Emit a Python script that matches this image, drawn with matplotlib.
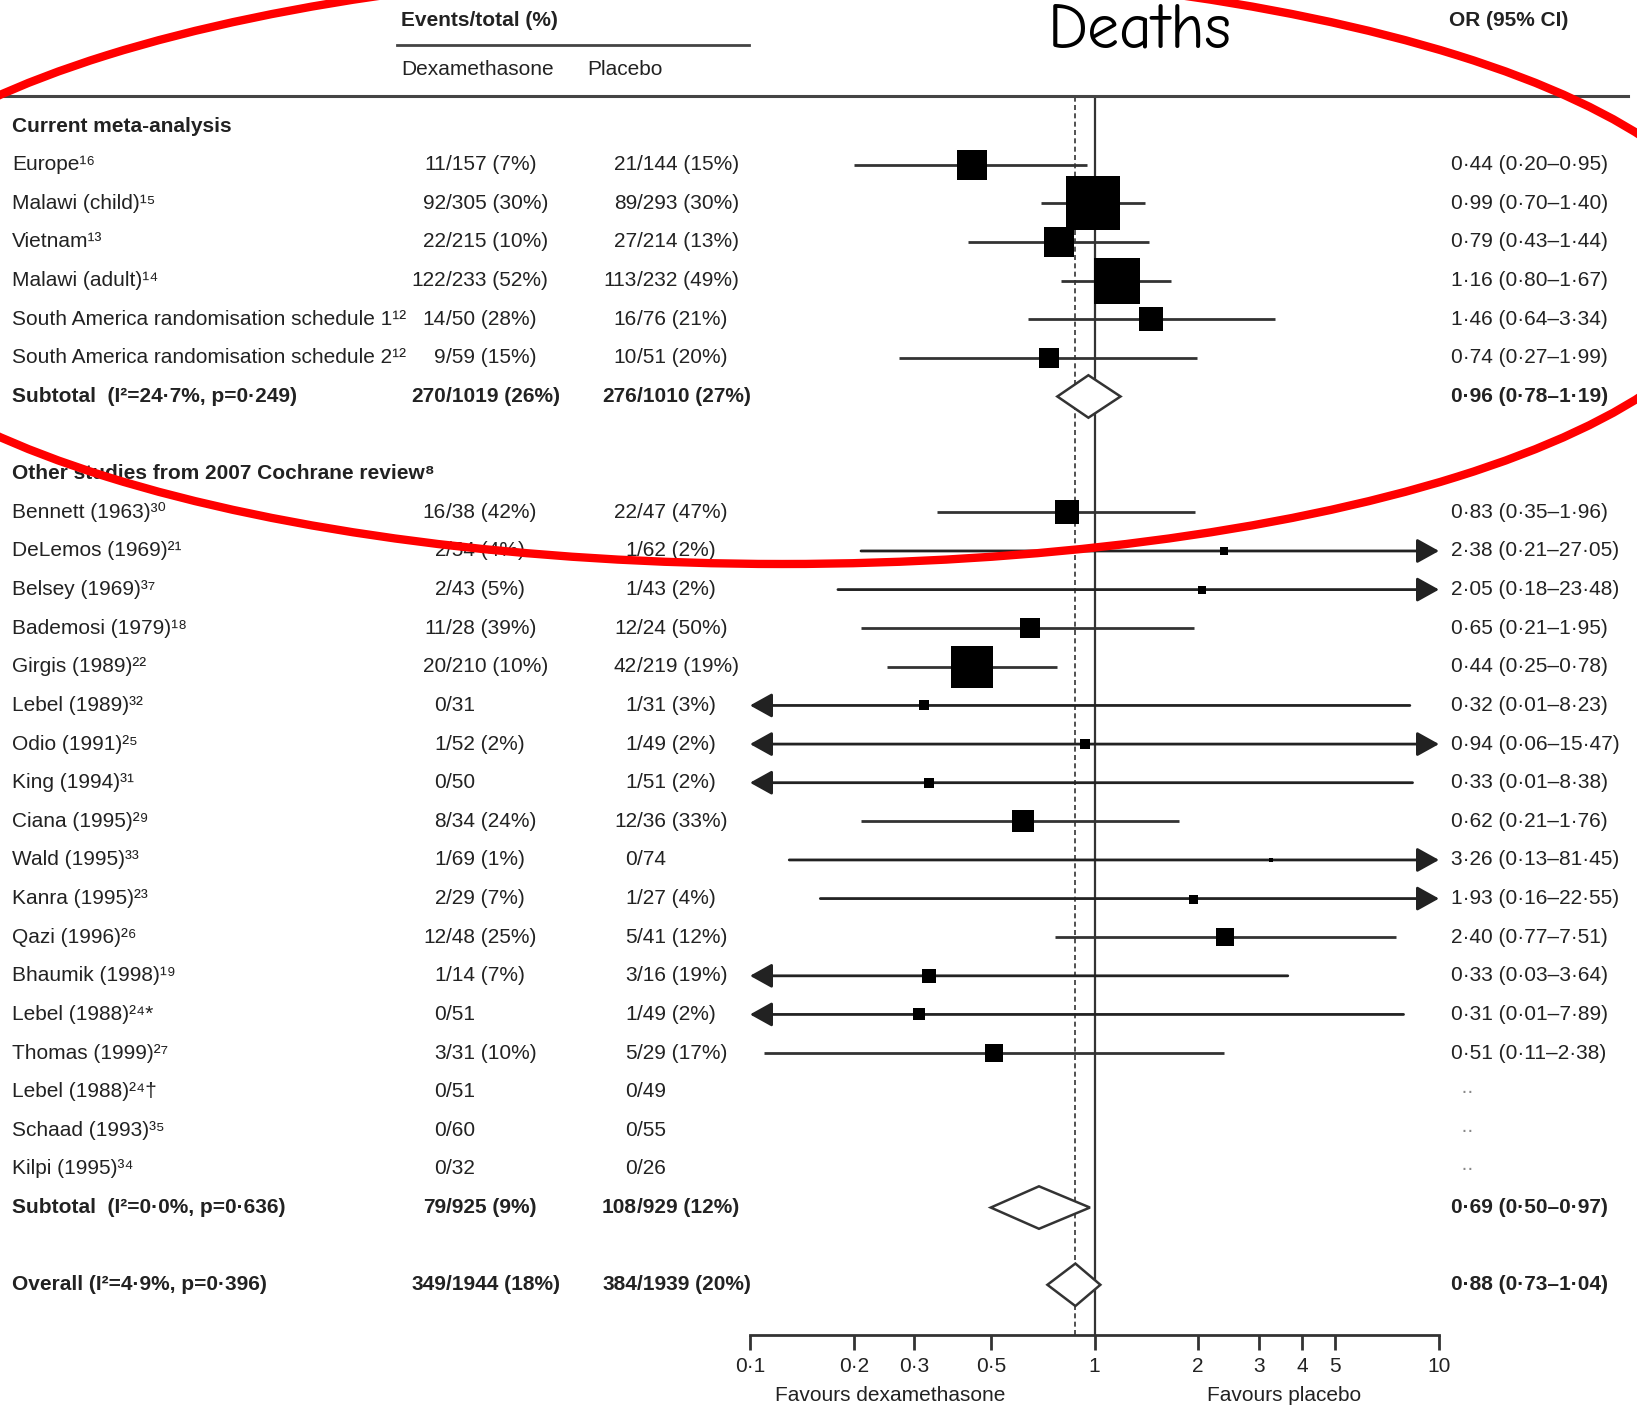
import numpy as np
import matplotlib
matplotlib.use('Agg')
import matplotlib.pyplot as plt
from matplotlib import transforms
from matplotlib.patches import Ellipse, Polygon

plt.rcParams['font.family'] = ['Liberation Sans', 'DejaVu Sans']

# ---- data (one entry per table row, top to bottom) ----
row_labels = [
    "Current meta-analysis",
    "Europe¹⁶",
    "Malawi (child)¹⁵",
    "Vietnam¹³",
    "Malawi (adult)¹⁴",
    "South America randomisation schedule 1¹²",
    "South America randomisation schedule 2¹²",
    "Subtotal  (I²=24·7%, p=0·249)",
    "",
    "Other studies from 2007 Cochrane review⁸",
    "Bennett (1963)³⁰",
    "DeLemos (1969)²¹",
    "Belsey (1969)³⁷",
    "Bademosi (1979)¹⁸",
    "Girgis (1989)²²",
    "Lebel (1989)³²",
    "Odio (1991)²⁵",
    "King (1994)³¹",
    "Ciana (1995)²⁹",
    "Wald (1995)³³",
    "Kanra (1995)²³",
    "Qazi (1996)²⁶",
    "Bhaumik (1998)¹⁹",
    "Lebel (1988)²⁴*",
    "Thomas (1999)²⁷",
    "Lebel (1988)²⁴†",
    "Schaad (1993)³⁵",
    "Kilpi (1995)³⁴",
    "Subtotal  (I²=0·0%, p=0·636)",
    "",
    "Overall (I²=4·9%, p=0·396)",
]
row_kind = ['head', 'study', 'study', 'study', 'study', 'study', 'study', 'sub', 'blank',
            'head', 'study', 'study', 'study', 'study', 'study', 'study', 'study', 'study',
            'study', 'study', 'study', 'study', 'study', 'study', 'study', 'study', 'study',
            'study', 'sub', 'blank', 'sub']
dexa = ["", "11/157 (7%)", "92/305 (30%)", "22/215 (10%)", "122/233 (52%)", "14/50 (28%)",
        "9/59 (15%)", "270/1019 (26%)", "", "", "16/38 (42%)", "2/54 (4%)", "2/43 (5%)",
        "11/28 (39%)", "20/210 (10%)", "0/31", "1/52 (2%)", "0/50", "8/34 (24%)", "1/69 (1%)",
        "2/29 (7%)", "12/48 (25%)", "1/14 (7%)", "0/51", "3/31 (10%)", "0/51", "0/60", "0/32",
        "79/925 (9%)", "", "349/1944 (18%)"]
placebo = ["", "21/144 (15%)", "89/293 (30%)", "27/214 (13%)", "113/232 (49%)", "16/76 (21%)",
           "10/51 (20%)", "276/1010 (27%)", "", "", "22/47 (47%)", "1/62 (2%)", "1/43 (2%)",
           "12/24 (50%)", "42/219 (19%)", "1/31 (3%)", "1/49 (2%)", "1/51 (2%)", "12/36 (33%)",
           "0/74", "1/27 (4%)", "5/41 (12%)", "3/16 (19%)", "1/49 (2%)", "5/29 (17%)", "0/49",
           "0/55", "0/26", "108/929 (12%)", "", "384/1939 (20%)"]
nan = np.nan
or_est = [nan, 0.44, 0.99, 0.79, 1.16, 1.46, 0.74, 0.96, nan, nan, 0.83, 2.38, 2.05, 0.65, 0.44,
          0.32, 0.94, 0.33, 0.62, 3.26, 1.93, 2.40, 0.33, 0.31, 0.51, nan, nan, nan, 0.69, nan, 0.88]
or_lo = [nan, 0.20, 0.70, 0.43, 0.80, 0.64, 0.27, 0.78, nan, nan, 0.35, 0.21, 0.18, 0.21, 0.25,
         0.01, 0.06, 0.01, 0.21, 0.13, 0.16, 0.77, 0.03, 0.01, 0.11, nan, nan, nan, 0.50, nan, 0.73]
or_hi = [nan, 0.95, 1.40, 1.44, 1.67, 3.34, 1.99, 1.19, nan, nan, 1.96, 27.05, 23.48, 1.95, 0.78,
         8.23, 15.47, 8.38, 1.76, 81.45, 22.55, 7.51, 3.64, 7.89, 2.38, nan, nan, nan, 0.97, nan, 1.04]
# relative study weights (box area)
weights = [0, 9.6, 28.1, 9.6, 21.2, 5.3, 4.4, 0, 0, 0, 5.3, 0.64, 0.64, 4.4, 17.6, 1.0, 1.0, 1.0,
           4.8, 0.16, 0.81, 2.9, 1.7, 1.4, 2.9, 0, 0, 0, 0, 0, 0]
overall_or = 0.88
ticks = [0.1, 0.2, 0.3, 0.5, 1, 2, 3, 4, 5, 10]

# ---- layout ----
W, H = 1637, 1409
fig = plt.figure(figsize=(W / 100, H / 100), dpi=100)
fig.patch.set_facecolor('white')
top_row, bot_row = -0.78, 31.3
ax = fig.add_axes([750 / W, 1 - 1335 / H, 689 / W, (1335 - 96) / H])
ax.set_xscale('log')
ax.set_xlim(0.1, 10)
ax.set_ylim(bot_row, top_row)
for s in ['top', 'left', 'right']:
    ax.spines[s].set_visible(False)
ax.spines['bottom'].set_linewidth(2)
ax.spines['bottom'].set_color('#333333')
ax.yaxis.set_visible(False)
ax.set_xticks(ticks)
ax.set_xticklabels([f"{t:g}".replace('.', '·') for t in ticks], fontsize=15, color='#222222')
ax.xaxis.set_minor_locator(matplotlib.ticker.NullLocator())
ax.tick_params(axis='x', length=11, width=2, color='#333333', pad=5)
ax.patch.set_alpha(0)

ink = '#222222'
fs = 15
blend = transforms.blended_transform_factory(fig.transFigure, ax.transData)
x_label = 12 / W
x_dexa = 446 / W
x_plac = 637 / W
x_or = 1451 / W

# reference lines
ax.axvline(1, color='#333333', lw=1.6, zorder=1)
ax.axvline(overall_or, color='#333333', lw=1.2, ls=(0, (3, 2)), zorder=1)

for i, lab in enumerate(row_labels):
    kind = row_kind[i]
    if kind == 'blank':
        continue
    bold = 'bold' if kind in ('head', 'sub') else 'normal'
    ax.text(x_label, i, lab, transform=blend, ha='left', va='center', fontsize=fs,
            fontweight=bold, color=ink, clip_on=False)
    for x_slash, cell in ((x_dexa, dexa[i]), (x_plac, placebo[i])):
        if not cell:
            continue
        num, rest = cell.split('/', 1)
        ax.text(x_slash, i, num, transform=blend, ha='right', va='center', fontsize=fs,
                fontweight=bold, color=ink, clip_on=False)
        ax.text(x_slash, i, '/' + rest, transform=blend, ha='left', va='center', fontsize=fs,
                fontweight=bold, color=ink, clip_on=False)
    if kind == 'head':
        continue
    est, lo, hi = or_est[i], or_lo[i], or_hi[i]
    if np.isnan(est):
        ax.text(x_or + 10 / W, i, '··', transform=blend, ha='left', va='center', fontsize=fs,
                color='#888888', clip_on=False)
        continue
    or_txt = f"{est:.2f} ({lo:.2f}–{hi:.2f})".replace('.', '·')
    ax.text(x_or, i, or_txt, transform=blend, ha='left', va='center', fontsize=fs,
            fontweight=bold, color=ink, clip_on=False)

    if kind == 'sub':
        h = 0.55
        dia = Polygon([(lo, i), (est, i - h), (hi, i), (est, i + h)], closed=True,
                      facecolor='white', edgecolor='#333333', lw=1.8, zorder=3)
        ax.add_patch(dia)
        continue

    # confidence interval, with arrows where it leaves the axis range
    left_out, right_out = lo < 0.1, hi > 10
    x0, x1 = max(lo, 0.1), min(hi, 10)
    if left_out and right_out:
        style = '<|-|>'
    elif left_out:
        style = '<|-'
    elif right_out:
        style = '-|>'
    else:
        style = '-'
    if style == '-':
        ax.plot([x0, x1], [i, i], color='#333333', lw=2, solid_capstyle='butt', zorder=2)
    else:
        ax.annotate('', xy=(x1, i), xytext=(x0, i),
                    arrowprops=dict(arrowstyle=style + ',head_length=0.45,head_width=0.25',
                                    mutation_scale=30, color='#222222', lw=2,
                                    shrinkA=0, shrinkB=0), zorder=2)
    side_pt = 10 * np.sqrt(weights[i]) * 0.72
    ax.plot([est], [i], marker='s', ms=side_pt, color='black', mec='black', mew=0, ls='none',
            zorder=4)

# header
ax.text(401 / W, -2.73, "Events/total (%)", transform=blend, ha='left', va='center',
        fontsize=fs, fontweight='bold', color=ink, clip_on=False)
ax.text(401 / W, -1.46, "Dexamethasone", transform=blend, ha='left', va='center',
        fontsize=fs, color=ink, clip_on=False)
ax.text(587 / W, -1.46, "Placebo", transform=blend, ha='left', va='center',
        fontsize=fs, color=ink, clip_on=False)
ax.text(1449 / W, -2.73, "OR (95% CI)", transform=blend, ha='left', va='center',
        fontsize=fs, fontweight='bold', color=ink, clip_on=False)
ax.plot([397 / W, 749 / W], [-2.1, -2.1], transform=blend, color='#444444', lw=2, clip_on=False)
ax.plot([0, 1628 / W], [top_row, top_row], transform=blend, color='#444444', lw=2.2,
        clip_on=False)

# axis captions
ax.text(890 / W, 32.86, "Favours dexamethasone", transform=blend, ha='center', va='center',
        fontsize=fs, color=ink, clip_on=False)
ax.text(1284 / W, 32.86, "Favours placebo", transform=blend, ha='center', va='center',
        fontsize=fs, color=ink, clip_on=False)

# hand annotation
fig.text(1048 / W, 1 - 47 / H, "Deaths", ha='left', va='baseline', fontsize=46,
         color='black', family=['Comic Neue', 'DejaVu Sans'])
ell = Ellipse((782 / W, 1 - 266 / H), 1910 / W, 596 / H, transform=fig.transFigure,
              fill=False, edgecolor='#ff0000', lw=6, clip_on=False, zorder=10)
fig.add_artist(ell)

fig.savefig('out.png', dpi=100, facecolor='white')
